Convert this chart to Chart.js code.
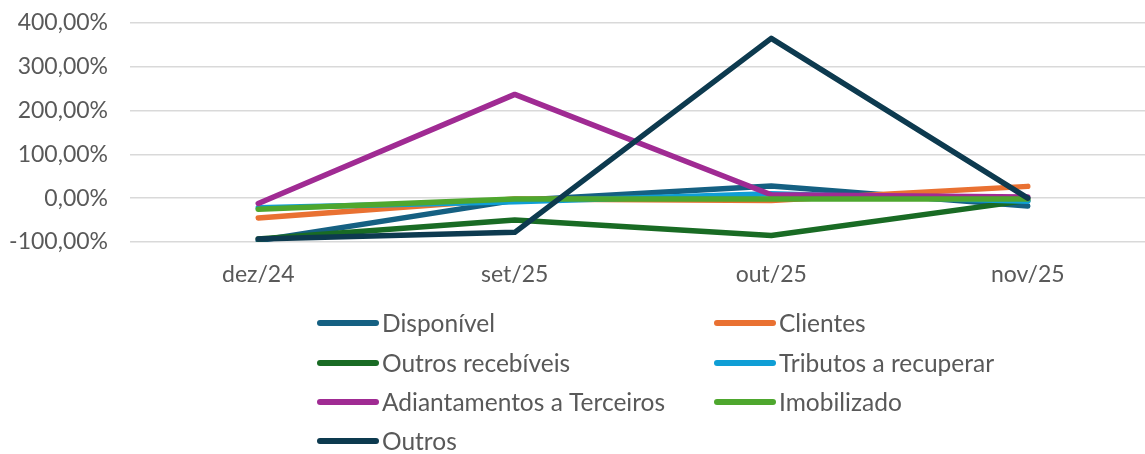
<!DOCTYPE html>
<html>
<head>
<meta charset="utf-8">
<script src="https://cdn.jsdelivr.net/npm/chart.js@4.4.1/dist/chart.umd.min.js"></script>
<style>
  html, body { margin: 0; padding: 0; background: #fff; overflow: hidden; }
  #wrap { width: 1160px; height: 454px; position: relative; }
</style>
</head>
<body>
<div id="wrap"><canvas id="myChart"></canvas></div>
<script>
// categorias (meses)
var months = ["dez/24", "set/25", "out/25", "nov/25"];

// valores em %
var disponivel = [-97, -5, 28, -18];
var clientes = [-45, -2, -5, 27];
var outrosRecebiveis = [-93, -50, -85, -5];
var tributos = [-22, -8, 10, -7];
var adiantamentos = [-12, 237, 8, 3];
var imobilizado = [-25, -2, -2, -2];
var outros = [-93, -78, 365, 0];

var seriesNames = ["Disponível", "Clientes", "Outros recebíveis", "Tributos a recuperar",
    "Adiantamentos a Terceiros", "Imobilizado", "Outros"];
var seriesValues = [disponivel, clientes, outrosRecebiveis, tributos, adiantamentos, imobilizado, outros];
var seriesColors = ["#156082", "#E97132", "#196B24", "#0F9ED5", "#A02B93", "#4EA72E", "#0D3A4F"];

var yTicks = [-100, 0, 100, 200, 300, 400];

var fontFamily = "Lato, 'Open Sans', sans-serif";
var textColor = "#595959";

var datasets = [];
seriesNames.forEach(function(name, i) {
    datasets.push({
        label: name,
        data: seriesValues[i],
        borderColor: seriesColors[i],
        backgroundColor: seriesColors[i],
        borderWidth: 5.5,
        borderCapStyle: 'round',
        borderJoinStyle: 'round',
        pointRadius: 0,
        tension: 0,
        order: seriesNames.length - i // ultima serie por cima, como no Excel
    });
});

// legenda em duas colunas desenhada no canvas
var gridLegend = {
    id: 'gridLegend',
    afterDraw: function(chart) {
        var ctx = chart.ctx;
        var colX = [318, 715];
        var rowY = [323, 363, 402, 441];
        ctx.save();
        ctx.font = "24.5px " + fontFamily;
        ctx.textBaseline = 'middle';
        ctx.textAlign = 'left';
        chart.data.datasets.forEach(function(ds, i) {
            var x = colX[i % 2];
            var y = rowY[Math.floor(i / 2)];
            ctx.strokeStyle = ds.borderColor;
            ctx.lineWidth = 6;
            ctx.lineCap = 'round';
            ctx.beginPath();
            ctx.moveTo(x + 2, y);
            ctx.lineTo(x + 58, y);
            ctx.stroke();
            ctx.fillStyle = textColor;
            ctx.fillText(ds.label, x + 64, y + 1);
        });
        ctx.restore();
    }
};

var ctx = document.getElementById("myChart").getContext('2d');
var myChart = new Chart(ctx, {
    type: 'line',
    data: {
        labels: months,
        datasets: datasets
    },
    options: {
        responsive: true,
        maintainAspectRatio: false,
        animation: false,
        layout: { padding: { top: 23, right: 4, bottom: 0, left: 0 } },
        plugins: {
            legend: { display: false },
            tooltip: { enabled: false }
        },
        scales: {
            x: {
                offset: true,
                grid: { display: false, drawTicks: false },
                border: { display: false },
                ticks: {
                    color: textColor,
                    font: { family: fontFamily, size: 23 },
                    padding: 19,
                    maxRotation: 0
                },
                afterFit: function(scale) { scale.height = 212; }
            },
            y: {
                min: -100,
                max: 400,
                afterBuildTicks: function(scale) {
                    scale.ticks = yTicks.map(function(v) { return { value: v }; });
                },
                grid: { color: "#D9D9D9", lineWidth: 1.5, drawTicks: false },
                border: { display: false },
                ticks: {
                    color: textColor,
                    font: { family: fontFamily, size: 23 },
                    padding: 22,
                    callback: function(v) { return v.toFixed(2).replace('.', ',') + '%'; }
                },
                afterFit: function(scale) {
                    scale.width = 130;
                    scale.paddingTop = 0;
                    scale.paddingBottom = 0;
                }
            }
        }
    },
    plugins: [gridLegend]
});
</script>
</body>
</html>
